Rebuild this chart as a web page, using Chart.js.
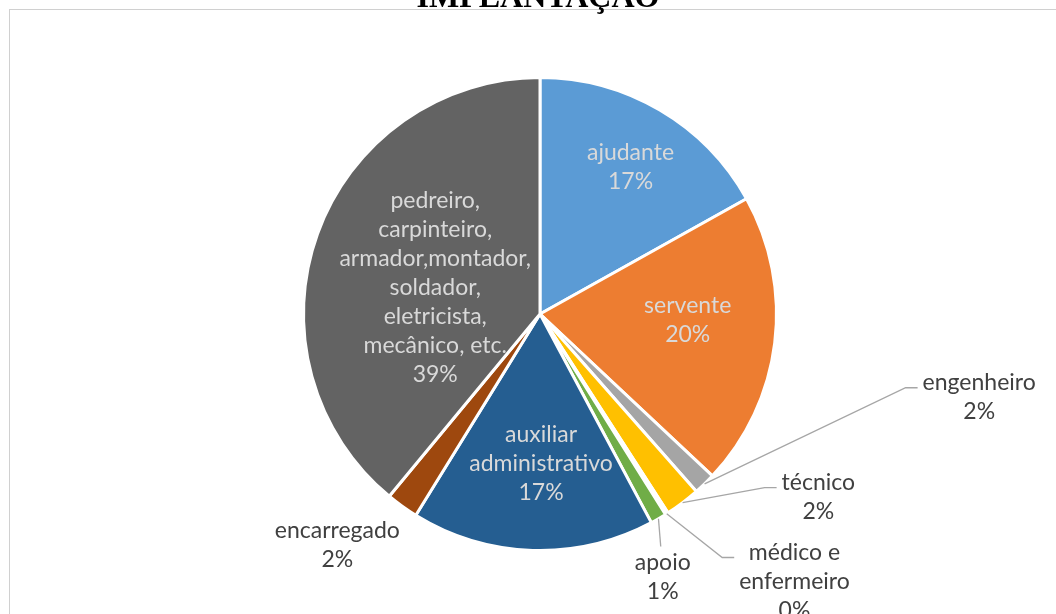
<!DOCTYPE html>
<html>
<head>
<meta charset="utf-8">
<script src="https://cdn.jsdelivr.net/npm/chart.js@4/dist/chart.umd.min.js"></script>
<style>
  html, body { margin: 0; padding: 0; background: #fff; overflow: hidden; }
  #wrap { width: 1056px; height: 614px; }
</style>
</head>
<body>
<div id="wrap"><canvas id="chart" width="1056" height="614"></canvas></div>
<script>
// categorias (cada uma já quebrada em linhas como no rótulo)
const categories = [
  ['ajudante'],
  ['servente'],
  ['engenheiro'],
  ['técnico'],
  ['médico e', 'enfermeiro'],
  ['apoio'],
  ['auxiliar', 'administrativo'],
  ['encarregado'],
  ['pedreiro,', 'carpinteiro,', 'armador,montador,', 'soldador,', 'eletricista,', 'mecânico, etc.']
];
// participação (%)
const values = [16.9, 20.1, 1.5, 2.4, 0.2, 1.1, 16.6, 2.2, 39.0];
const colors = ['#5B9BD5', '#ED7D31', '#A5A5A5', '#FFC000', '#4472C4', '#70AD47', '#255E91', '#9E480E', '#636363'];
const titleText = 'IMPLANTAÇÃO';

// onde cada rótulo fica: dentro da fatia (fração do raio + desvio em graus)
// ou fora (deslocamento em raios a partir do centro, com linha de chamada)
const placement = [
  { inside: true, f: 0.73, shift: 1.2 },
  { inside: true, f: 0.625, shift: -4.7 },
  { dx: 1.857, dy: 0.352, leader: 'left' },
  { dx: 1.177, dy: 0.774, leader: 'left' },
  { dx: 1.076, dy: 1.131, leader: 'left' },
  { dx: 0.519, dy: 1.112, leader: 'top' },
  { inside: true, f: 0.633, shift: -2.2 },
  { dx: -0.857, dy: 0.977, leader: null },
  { inside: true, f: 0.457, shift: -5.6 }
];

const FONT = '23px Lato, "Open Sans", sans-serif';
const LINE_H = 29;

const frame = {
  id: 'frame',
  beforeDraw(chart) {
    const c = chart.ctx;
    c.save();
    c.fillStyle = '#fff';
    c.fillRect(0, 0, chart.width, chart.height);
    c.strokeStyle = '#D0D0D0';
    c.lineWidth = 1;
    c.strokeRect(9.5, 9.5, chart.width + 20, chart.height + 20);
    c.fillStyle = '#000';
    c.font = 'bold 32px "Liberation Serif", "DejaVu Serif", serif';
    c.textAlign = 'center';
    c.textBaseline = 'alphabetic';
    c.fillText(titleText, 538, 7);
    c.restore();
  }
};

const sliceLabels = {
  id: 'sliceLabels',
  afterDatasetsDraw(chart) {
    const c = chart.ctx;
    const meta = chart.getDatasetMeta(0);
    const data = chart.data.datasets[0].data;
    const total = data.reduce((a, b) => a + b, 0);
    c.save();
    c.font = FONT;
    c.textAlign = 'center';
    c.textBaseline = 'middle';
    meta.data.forEach((arc, i) => {
      const p = arc.getProps(['x', 'y', 'startAngle', 'endAngle', 'outerRadius'], true);
      const r = p.outerRadius;
      const mid = (p.startAngle + p.endAngle) / 2;
      const lines = chart.data.labels[i].concat([Math.round(data[i] / total * 100) + '%']);
      const pl = placement[i];
      let cx, cy;
      if (pl.inside) {
        const a = mid + pl.shift * Math.PI / 180;
        cx = p.x + Math.cos(a) * r * pl.f;
        cy = p.y + Math.sin(a) * r * pl.f;
        c.fillStyle = '#D9D9D9';
      } else {
        cx = p.x + pl.dx * r;
        cy = p.y + pl.dy * r;
        c.fillStyle = '#404040';
      }
      const y0 = cy - (lines.length - 1) * LINE_H / 2;
      if (!pl.inside && pl.leader) {
        const sx = p.x + Math.cos(mid) * r;
        const sy = p.y + Math.sin(mid) * r;
        const w = Math.max(...lines.map(t => c.measureText(t).width));
        c.strokeStyle = '#A6A6A6';
        c.lineWidth = 1.3;
        c.beginPath();
        c.moveTo(sx, sy);
        if (pl.leader === 'left') {
          const ex = cx - w / 2 - 5;
          const ey = y0 + 5;
          c.lineTo(ex - 12, ey);
          c.lineTo(ex, ey);
        } else {
          c.lineTo(cx - 2, y0 - 16);
        }
        c.stroke();
      }
      lines.forEach((t, k) => c.fillText(t, cx, y0 + k * LINE_H));
    });
    c.restore();
  }
};

new Chart(document.getElementById('chart'), {
  type: 'pie',
  data: {
    labels: categories,
    datasets: [{
      data: values,
      backgroundColor: colors,
      borderColor: '#FFFFFF',
      borderWidth: 3
    }]
  },
  options: {
    responsive: false,
    animation: false,
    layout: { padding: { top: 76, bottom: 62, left: 302, right: 278 } },
    plugins: {
      legend: { display: false },
      tooltip: { enabled: false },
      title: { display: false }
    }
  },
  plugins: [frame, sliceLabels]
});
</script>
</body>
</html>
